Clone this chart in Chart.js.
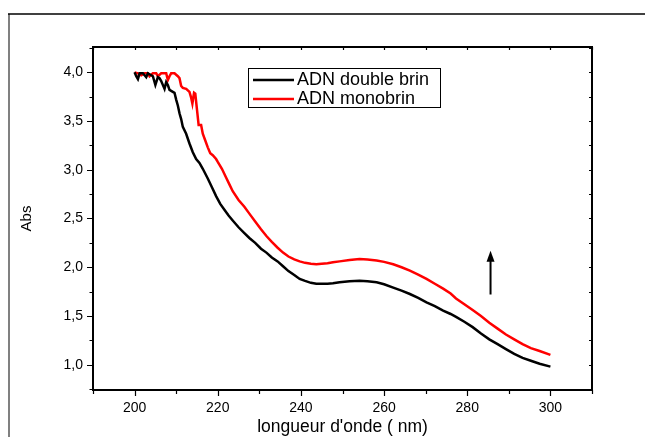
<!DOCTYPE html>
<html>
<head>
<meta charset="utf-8">
<script src="https://cdn.jsdelivr.net/npm/chart.js@4.4.1/dist/chart.umd.min.js"></script>
<style>
  html, body { margin: 0; padding: 0; background: #fff; }
  canvas { display: block; }
</style>
</head>
<body>
<canvas id="spectre" width="645" height="437"></canvas>
<script>
// longueurs d'onde (nm) et absorbance
const nmDouble = [200, 200.4, 200.8, 201.2, 202, 202.8, 203.2, 203.6, 204.4, 205, 205.6, 206, 206.4, 207.2, 207.6, 208, 208.4, 209.2, 209.6, 210, 210.4, 210.8, 211.2, 211.6, 212.4, 213.2, 214, 214.8, 215.6, 216.4, 217.6, 218.6, 219.6, 220.6, 221.6, 222.6, 223.6, 225, 226.4, 227.6, 229, 230.4, 231.7, 233, 234.4, 235.7, 237, 238.4, 239.7, 241, 242.4, 243.7, 245, 246.4, 247.7, 249.3, 251.7, 254.1, 256, 258.2, 260, 262.2, 264.2, 266.2, 268.2, 270.2, 272.2, 274.2, 276, 277.3, 279.3, 281.3, 283.3, 285.3, 287.3, 289.3, 291.3, 293.3, 295.3, 297.4, 300];
const absDouble = [4.00, 3.96, 3.93, 3.99, 3.99, 3.95, 3.99, 3.98, 3.96, 3.87, 3.95, 3.94, 3.91, 3.83, 3.90, 3.87, 3.82, 3.80, 3.79, 3.72, 3.66, 3.58, 3.52, 3.44, 3.37, 3.27, 3.18, 3.11, 3.07, 3.01, 2.91, 2.82, 2.73, 2.65, 2.59, 2.53, 2.48, 2.41, 2.35, 2.30, 2.25, 2.19, 2.15, 2.10, 2.06, 2.01, 1.96, 1.92, 1.88, 1.86, 1.84, 1.83, 1.83, 1.83, 1.835, 1.845, 1.855, 1.86, 1.855, 1.845, 1.825, 1.79, 1.76, 1.725, 1.685, 1.64, 1.60, 1.555, 1.52, 1.49, 1.44, 1.385, 1.32, 1.26, 1.21, 1.16, 1.11, 1.07, 1.04, 1.01, 0.98];

const nmMono = [200, 200.8, 201.6, 202.4, 203.2, 203.6, 204.4, 205.2, 205.6, 206.4, 207.6, 208, 208.4, 208.8, 209.6, 210.4, 210.8, 211.2, 211.6, 212.4, 213.2, 213.6, 213.9, 214.3, 214.6, 215, 215.4, 216, 216.4, 217, 217.6, 218.2, 218.8, 219.6, 220, 221, 222, 222.8, 223.6, 225, 226.4, 227.6, 229, 230.4, 231.7, 233, 234.4, 235.7, 237, 238.4, 239.7, 241, 242.4, 243.7, 245, 246.4, 247.7, 249.3, 251.7, 254.1, 256, 258.2, 260, 262.2, 264.2, 266.2, 268.2, 270.2, 272.2, 274.2, 276, 277.3, 279.3, 281.3, 283.3, 285.3, 287.3, 289.3, 291.3, 293.3, 295.3, 297.4, 300];
const absMono = [4.00, 3.99, 3.97, 3.99, 3.99, 3.96, 3.99, 3.99, 3.96, 3.99, 3.99, 3.92, 3.96, 3.99, 3.99, 3.96, 3.94, 3.86, 3.84, 3.83, 3.80, 3.74, 3.68, 3.79, 3.78, 3.62, 3.46, 3.46, 3.37, 3.30, 3.23, 3.17, 3.15, 3.11, 3.08, 3.01, 2.92, 2.85, 2.78, 2.69, 2.62, 2.55, 2.47, 2.39, 2.32, 2.26, 2.20, 2.15, 2.11, 2.08, 2.06, 2.045, 2.035, 2.03, 2.035, 2.04, 2.05, 2.06, 2.075, 2.085, 2.08, 2.07, 2.055, 2.03, 2.00, 1.965, 1.925, 1.88, 1.83, 1.78, 1.73, 1.68, 1.62, 1.56, 1.50, 1.43, 1.37, 1.31, 1.26, 1.21, 1.17, 1.14, 1.10];

const xTicks = [200, 220, 240, 260, 280, 300];
const yTicks = [1.0, 1.5, 2.0, 2.5, 3.0, 3.5, 4.0];
const seriesNames = ['ADN double brin', 'ADN monobrin'];

// fleche : position en unites des axes
const arrowNm = 285.6;
const arrowFrom = 1.72;
const arrowTo = 2.17;

const FONT = '"Liberation Sans", Arial, sans-serif';

function toPoints(xs, ys) {
    return xs.map((x, i) => ({ x: x, y: ys[i] }));
}

// cadre, graduations, fleche et legende facon Origin
const cadrePlugin = {
    id: 'cadre',
    afterDatasetsDraw(chart) {
        const ctx = chart.ctx;
        const a = chart.chartArea;
        const xs = chart.scales.x;
        const ys = chart.scales.y;
        ctx.save();

        // cadre exterieur
        ctx.strokeStyle = '#808080';
        ctx.lineWidth = 2;
        ctx.beginPath();
        ctx.moveTo(9, 14);
        ctx.lineTo(9, 437);
        ctx.stroke();
        ctx.strokeStyle = '#000';
        ctx.lineWidth = 1.5;
        ctx.beginPath();
        ctx.moveTo(8, 14);
        ctx.lineTo(645, 14);
        ctx.stroke();

        // graduations
        ctx.strokeStyle = '#000';
        ctx.lineWidth = 1.2;
        ctx.beginPath();
        for (let v = 190; v <= 310; v += 10) {
            const px = Math.round(xs.getPixelForValue(v)) + 0.5;
            const len = (v % 20 === 0) ? 6 : 4;
            ctx.moveTo(px, a.bottom);
            ctx.lineTo(px, a.bottom + len);
            ctx.moveTo(px, a.top);
            ctx.lineTo(px, a.top + 3);
        }
        for (let i = 3; i <= 17; i++) {
            const v = i * 0.25;
            const py = Math.round(ys.getPixelForValue(v)) + 0.5;
            const len = (i % 2 === 0) ? 6 : 3.5;
            ctx.moveTo(a.left, py);
            ctx.lineTo(a.left - len, py);
            ctx.moveTo(a.right, py);
            ctx.lineTo(a.right - 3, py);
        }
        ctx.stroke();

        // axes
        ctx.lineWidth = 2;
        ctx.strokeRect(a.left, a.top, a.right - a.left, a.bottom - a.top);

        // fleche
        const ax = xs.getPixelForValue(arrowNm);
        const ay0 = ys.getPixelForValue(arrowFrom);
        const ay1 = ys.getPixelForValue(arrowTo);
        ctx.lineWidth = 2;
        ctx.beginPath();
        ctx.moveTo(ax, ay0);
        ctx.lineTo(ax, ay1 + 8);
        ctx.stroke();
        ctx.fillStyle = '#000';
        ctx.beginPath();
        ctx.moveTo(ax, ay1);
        ctx.lineTo(ax - 4, ay1 + 11);
        ctx.lineTo(ax + 4, ay1 + 11);
        ctx.closePath();
        ctx.fill();

        // legende
        ctx.lineWidth = 1;
        ctx.strokeRect(248.5, 68.5, 192, 39);
        ctx.font = '18px ' + FONT;
        ctx.textBaseline = 'middle';
        chart.data.datasets.forEach((ds, i) => {
            const y = 80 + i * 19;
            ctx.strokeStyle = ds.borderColor;
            ctx.lineWidth = 2.5;
            ctx.beginPath();
            ctx.moveTo(253, y);
            ctx.lineTo(294, y);
            ctx.stroke();
            ctx.fillStyle = '#000';
            ctx.fillText(ds.label, 297, y);
        });

        ctx.restore();
    }
};

new Chart(document.getElementById('spectre'), {
    type: 'line',
    data: {
        datasets: [{
            label: seriesNames[0],
            data: toPoints(nmDouble, absDouble),
            borderColor: '#000000',
            borderWidth: 2.5,
            pointRadius: 0,
            tension: 0
        }, {
            label: seriesNames[1],
            data: toPoints(nmMono, absMono),
            borderColor: '#ff0000',
            borderWidth: 2.5,
            pointRadius: 0,
            tension: 0
        }]
    },
    options: {
        responsive: false,
        animation: false,
        events: [],
        layout: { padding: { left: 0, top: 47, right: 53, bottom: 0 } },
        plugins: {
            legend: { display: false },
            tooltip: { enabled: false }
        },
        scales: {
            x: {
                type: 'linear',
                min: 190,
                max: 310,
                afterBuildTicks: s => { s.ticks = xTicks.map(v => ({ value: v })); },
                afterFit: s => { s.height = 47; },
                grid: { display: false, drawTicks: false },
                border: { display: false },
                ticks: {
                    color: '#000',
                    padding: 10,
                    maxRotation: 0,
                    font: { family: FONT, size: 14 }
                },
                title: {
                    display: true,
                    text: "longueur d'onde ( nm)",
                    color: '#000',
                    font: { family: FONT, size: 17.5, lineHeight: 1 },
                    padding: { top: 0, bottom: 1 }
                }
            },
            y: {
                min: 0.74,
                max: 4.26,
                afterBuildTicks: s => { s.ticks = yTicks.map(v => ({ value: v })); },
                afterFit: s => { s.width = 93; },
                grid: { display: false, drawTicks: false },
                border: { display: false },
                ticks: {
                    color: '#000',
                    padding: 10,
                    font: { family: FONT, size: 14 },
                    callback: v => v.toFixed(1).replace('.', ',')
                },
                title: {
                    display: true,
                    text: 'Abs',
                    color: '#000',
                    font: { family: FONT, size: 15, lineHeight: 1.2 },
                    padding: { top: 18, bottom: 0 }
                }
            }
        }
    },
    plugins: [cadrePlugin]
});
</script>
</body>
</html>
